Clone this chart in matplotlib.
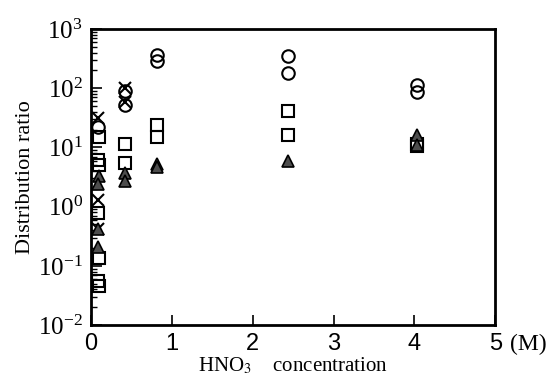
import matplotlib
matplotlib.use("Agg")
import matplotlib.pyplot as plt
from matplotlib.ticker import LogLocator, FixedLocator, NullFormatter

plt.rcParams['font.family'] = 'Liberation Serif'
plt.rcParams['mathtext.fontset'] = 'stix'
plt.rcParams['axes.unicode_minus'] = False

# values (x in M, y = distribution ratio)
circle_x = [0.08, 0.42, 0.42, 0.81, 0.81, 2.43, 2.43, 4.03, 4.03]
circle_y = [22, 90, 52, 360, 290, 350, 180, 112, 85]

cross_x = [0.08, 0.08, 0.08, 0.42, 0.42]
cross_y = [32, 1.3, 0.42, 100, 58]

square_x = [0.1, 0.08, 0.1, 0.08, 0.1, 0.08, 0.1, 0.42, 0.42, 0.81, 0.81, 2.43, 2.43, 4.03, 4.03]
square_y = [15, 6.2, 5.0, 0.78, 0.135, 0.055, 0.046, 11.5, 5.5, 24, 15, 41, 16, 11.5, 10.5]

tri_x = [0.1, 0.08, 0.08, 0.08, 0.42, 0.42, 0.81, 0.81, 2.43, 4.03, 4.03]
tri_y = [3.3, 2.4, 0.42, 0.21, 3.7, 2.7, 5.3, 4.6, 5.9, 16, 11]

xticks = [0, 1, 2, 3, 4, 5]

fig = plt.figure(figsize=(5.49, 3.82), dpi=100)
ax = fig.add_axes([0.166, 0.149, 0.736, 0.775])

ax.plot(circle_x, circle_y, 'o', ms=9, mfc='none', mec='black', mew=1.5)
ax.plot(cross_x, cross_y, 'x', ms=8, mec='black', mew=1.5)
ax.plot(square_x, square_y, 's', ms=8, mfc='none', mec='black', mew=1.5)
ax.plot(tri_x, tri_y, '^', ms=8, mfc='0.3', mec='black', mew=1.2)

ax.set_yscale('log')
ax.set_ylim(1e-2, 1e3)
ax.set_xlim(0, 5)
ax.yaxis.set_major_locator(LogLocator(base=10, numticks=10))
ax.yaxis.set_minor_locator(LogLocator(base=10, subs=range(2, 10), numticks=10))
ax.yaxis.set_minor_formatter(NullFormatter())
ax.xaxis.set_major_locator(FixedLocator(xticks))

for s in ax.spines.values():
    s.set_linewidth(2)

ax.tick_params(axis='both', which='both', direction='in', top=False, right=False)
ax.tick_params(axis='y', which='major', length=8, width=1.2, labelsize=18, pad=6)
ax.tick_params(axis='y', which='minor', length=4, width=1)
ax.tick_params(axis='x', which='major', length=7, width=1.2, labelsize=17, pad=6)
for lab in ax.get_xticklabels():
    lab.set_family('Liberation Sans')

ax.text(5.18, -0.03, '(M)', transform=ax.get_xaxis_transform(), fontsize=17,
        ha='left', va='top')
ax.set_xlabel('HNO$_3$    concentration', fontsize=15, labelpad=0)
ax.set_ylabel('Distribution ratio', fontsize=16, labelpad=2)

fig.savefig('out.png', dpi=100)
